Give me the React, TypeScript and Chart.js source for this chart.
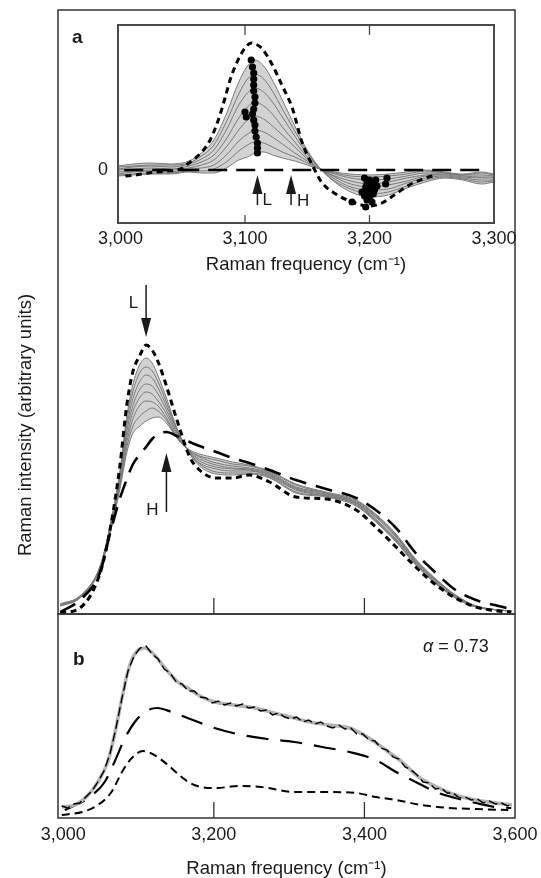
import React, { useEffect, useRef } from "react";
import { Chart, registerables } from "chart.js";

Chart.register(...registerables);

// ---------------- data: main panel (v = arbitrary intensity units) ----------------
const MAIN_FREQ = [2996, 3022, 3049, 3062, 3075, 3084, 3092, 3102, 3110, 3118, 3126, 3137, 3151, 3168, 3181, 3203, 3225, 3247, 3274, 3309, 3349, 3389, 3415, 3442, 3468, 3495, 3521, 3548, 3578, 3595];
const MAIN_LOW = [1, 6, 41, 84, 147, 207, 241, 259, 269, 264, 252, 228, 194, 157, 144, 136, 136, 139, 132, 117, 115, 104, 87, 67, 47, 29, 16, 7, 3, 2];
const MAIN_HIGH = [2, 14, 42, 80, 115, 134, 149, 160, 167, 175, 180, 182, 178, 172, 168, 162, 156, 151, 144, 134, 125, 116, 104, 86, 61, 41, 24, 14, 8, 5];
const MAIN_GRAY_1 = [10, 18, 48, 88, 142, 196, 228, 250, 256, 251, 238, 216, 186, 160, 148, 140, 139, 140, 136, 121, 117, 108, 92, 72, 49, 30, 16, 7, 4, 3];
const MAIN_GRAY_2 = [10, 18, 48, 87, 139, 191, 221, 242, 247, 243, 232, 212, 184, 161, 150, 142, 141, 141, 137, 122, 118, 109, 93, 73, 50, 31, 16, 7, 4, 3];
const MAIN_GRAY_3 = [9, 17, 47, 86, 137, 186, 214, 233, 239, 236, 226, 208, 183, 161, 151, 145, 143, 143, 138, 124, 118, 110, 94, 74, 51, 31, 17, 7, 4, 3];
const MAIN_GRAY_4 = [9, 17, 47, 85, 134, 181, 207, 225, 230, 228, 220, 204, 181, 162, 153, 147, 145, 144, 139, 125, 119, 111, 95, 75, 52, 32, 17, 7, 4, 3];
const MAIN_GRAY_5 = [9, 17, 46, 83, 132, 175, 201, 217, 222, 220, 213, 200, 179, 162, 155, 149, 146, 145, 140, 126, 120, 111, 97, 77, 52, 33, 18, 8, 4, 3];
const MAIN_GRAY_6 = [9, 17, 46, 82, 129, 170, 194, 209, 213, 212, 208, 196, 177, 163, 157, 151, 148, 146, 141, 127, 121, 112, 98, 78, 53, 34, 18, 8, 4, 3];
const MAIN_GRAY_7 = [8, 16, 45, 81, 127, 165, 187, 198, 203, 206, 203, 194, 176, 163, 158, 154, 150, 148, 142, 129, 121, 113, 99, 79, 54, 34, 19, 8, 4, 3];
const MAIN_GRAY_8 = [8, 16, 45, 80, 124, 160, 180, 188, 193, 196, 197, 191, 176, 164, 160, 156, 152, 149, 143, 130, 122, 114, 100, 80, 55, 35, 19, 8, 4, 3];
const MAIN_TICKS = [3200, 3400];
const MAIN_ARROWS = [3110, 3137]; // L, H

// ---------------- data: inset a (difference spectra) ----------------
const INSET_FREQ = [2998, 3010, 3025, 3040, 3055, 3065, 3075, 3085, 3095, 3102, 3108, 3115, 3122, 3130, 3140, 3150, 3160, 3172, 3185, 3200, 3215, 3230, 3245, 3260, 3275, 3290, 3300];
const INSET_GRAY_1 = [4, 6, 7, 6, 9, 17, 30, 56, 88, 104, 110, 104, 90, 70, 44, 20, 2, -12, -22, -27, -25, -18, -12, -8, -10, -14, -12];
const INSET_GRAY_2 = [3, 4, 5, 5, 7, 14, 25, 48, 76, 91, 96, 91, 79, 61, 39, 18, 2, -11, -19, -24, -22, -16, -10, -7, -9, -12, -11];
const INSET_GRAY_3 = [1, 3, 4, 3, 6, 11, 20, 40, 65, 77, 82, 78, 68, 53, 34, 16, 2, -9, -17, -20, -19, -13, -8, -6, -8, -10, -10];
const INSET_GRAY_4 = [0, 1, 2, 1, 4, 8, 15, 31, 52, 63, 68, 64, 56, 43, 28, 13, 2, -7, -14, -17, -15, -11, -6, -5, -7, -8, -8];
const INSET_GRAY_5 = [-2, -1, 0, 0, 2, 5, 10, 23, 40, 50, 54, 51, 44, 35, 23, 11, 1, -6, -11, -14, -12, -8, -5, -4, -6, -7, -7];
const INSET_GRAY_6 = [-4, -2, -1, -2, 1, 2, 5, 15, 29, 36, 40, 38, 33, 26, 17, 9, 1, -4, -8, -10, -9, -6, -3, -3, -5, -5, -6];
const INSET_GRAY_7 = [-5, -4, -3, -3, -1, -1, 1, 8, 19, 25, 28, 27, 23, 18, 13, 7, 1, -3, -6, -7, -6, -4, -1, -3, -5, -3, -5];
const INSET_GRAY_8 = [-6, -5, -4, -4, -2, -3, -3, 2, 10, 13, 17, 18, 15, 12, 9, 5, 1, -2, -4, -5, -4, -2, 0, -2, -4, -2, -4];
const INSET_LOW_FREQ = [3004, 3012, 3022, 3038, 3046, 3056, 3066, 3072, 3078, 3084, 3088, 3094, 3100, 3105, 3110, 3114, 3122, 3130, 3138, 3146, 3154, 3162, 3173, 3186, 3200, 3210, 3221, 3232, 3245, 3253];
const INSET_LOW = [-6, -5, -3, -1, 0, 8, 19, 30, 48, 72, 90, 109, 122, 127, 125, 121, 105, 84, 62, 27, 5, -13, -24, -32, -36, -33, -24, -15, -8, -5];
const INSET_ZERO_FREQ = [3003, 3291];
const INSET_ZERO = [0, 0];
const DOT_FREQ = [3105, 3106, 3107, 3107, 3107, 3107, 3108, 3108, 3107, 3106, 3107, 3108, 3108, 3109, 3110, 3110, 3110, 3100, 3101,
  3196, 3198, 3200, 3202, 3197, 3201, 3199, 3203, 3196, 3200, 3204, 3194, 3198, 3202, 3186, 3197, 3214, 3213, 3206, 3205];
const DOT_VAL = [110, 103, 97, 91, 85, 79, 73, 67, 61, 56, 50, 45, 39, 33, 27, 22, 17, 58, 53,
  -8, -12, -10, -14, -17, -19, -22, -24, -26, -28, -20, -22, -30, -32, -32, -37, -8, -14, -16, -10];
const INSET_TICK_LABELS = [3000, 3100, 3200, 3300];
const INSET_TICKS = [3100, 3200];

// ---------------- data: panel b ----------------
const B_FREQ = [2998, 3006, 3014, 3022, 3030, 3038, 3046, 3054, 3062, 3070, 3078, 3086, 3094, 3102, 3110, 3118, 3126, 3134, 3142, 3150, 3158, 3166, 3174, 3182, 3190, 3198, 3206, 3214, 3222, 3230, 3238, 3246, 3254, 3262, 3270, 3278, 3286, 3294, 3302, 3310, 3318, 3326, 3334, 3342, 3350, 3358, 3366, 3374, 3382, 3390, 3398, 3406, 3414, 3422, 3430, 3438, 3446, 3454, 3462, 3470, 3478, 3486, 3494, 3502, 3510, 3518, 3526, 3534, 3542, 3550, 3558, 3566, 3574, 3582, 3590, 3596];
const B_DATA = [12, 10, 14, 15, 21, 27, 36, 47, 64, 90, 120, 147, 162, 170, 172, 164, 159, 149, 145, 136, 134, 127, 127, 121, 120, 115, 117, 113, 115, 112, 114, 110, 111, 107, 108, 103, 105, 101, 99, 101, 96, 98, 94, 96, 92, 90, 93, 89, 90, 84, 84, 78, 77, 70, 68, 61, 59, 51, 48, 43, 36, 35, 29, 30, 25, 25, 20, 21, 18, 19, 15, 17, 14, 15, 12, 14];
const B_FIT_FREQ = [2998, 3015, 3033, 3046, 3059, 3068, 3078, 3086, 3095, 3108, 3121, 3135, 3152, 3165, 3184, 3201, 3227, 3254, 3280, 3307, 3327, 3353, 3380, 3406, 3432, 3450, 3472, 3499, 3521, 3548, 3574, 3596];
const B_FIT = [11, 13, 23, 36, 56, 83, 120, 147, 164, 170, 163, 150, 136, 130, 121, 116, 113, 110, 105, 100, 96, 93, 90, 80, 66, 56, 41, 30, 23, 18, 15, 13];
const B_HIGH_FREQ = [3002, 3033, 3055, 3068, 3082, 3095, 3108, 3125, 3144, 3165, 3201, 3237, 3271, 3307, 3344, 3380, 3415, 3442, 3468, 3495, 3521, 3548, 3574, 3595];
const B_HIGH = [8, 20, 36, 56, 80, 96, 106, 110, 106, 100, 90, 83, 79, 76, 71, 66, 58, 46, 36, 26, 20, 15, 11, 10];
const B_LOW_FREQ = [2998, 3025, 3046, 3064, 3078, 3091, 3106, 3121, 3139, 3157, 3174, 3201, 3237, 3263, 3307, 3344, 3389, 3415, 3442, 3476, 3512, 3548, 3591];
const B_LOW = [3, 6, 13, 26, 46, 60, 67, 63, 53, 41, 33, 30, 32, 31, 26, 26, 25, 21, 18, 13, 10, 9, 8];
const B_TICK_LABELS = [3000, 3200, 3400, 3600];
const B_TICKS = [3200, 3400];

// ---------------- styling helpers ----------------
const FONT = "'Liberation Sans', Arimo, Arial, Helvetica, sans-serif";
const TEXT = "#1a1a1a";
const GRAY = "#7a7a7a";

const pts = (xs: number[], ys: number[]) => xs.map((x, i) => ({ x, y: ys[i] }));
const fmt = (v: number) => {
  const s = String(Math.round(v));
  return s.length > 3 ? s.slice(0, -3) + "," + s.slice(-3) : s;
};

const line = (data: any[], color: string, width: number, dash: number[], order: number, extra: any = {}) => ({
  data,
  borderColor: color,
  borderWidth: width,
  borderDash: dash,
  borderCapStyle: "butt",
  pointRadius: 0,
  cubicInterpolationMode: "monotone",
  fill: false,
  order,
  ...extra,
});

function framePlugin(cfg: { color: string; width: number; ticks: number[]; topLen: number; bottomLen: number }) {
  return {
    id: "frame",
    afterDatasetsDraw(chart: any) {
      const { ctx, chartArea: a } = chart;
      const xs = chart.scales.x;
      ctx.save();
      ctx.strokeStyle = cfg.color;
      ctx.lineWidth = cfg.width;
      ctx.strokeRect(a.left, a.top, a.right - a.left, a.bottom - a.top);
      ctx.lineWidth = 1.3;
      ctx.beginPath();
      for (const v of cfg.ticks) {
        const x = xs.getPixelForValue(v);
        if (cfg.topLen > 0) {
          ctx.moveTo(x, a.top);
          ctx.lineTo(x, a.top + cfg.topLen);
        }
        if (cfg.bottomLen > 0) {
          ctx.moveTo(x, a.bottom);
          ctx.lineTo(x, a.bottom - cfg.bottomLen);
        }
      }
      ctx.stroke();
      ctx.restore();
    },
  };
}

function arrow(ctx: CanvasRenderingContext2D, x: number, yTail: number, yTip: number) {
  const dir = yTip > yTail ? 1 : -1;
  const head = 19;
  const half = 5;
  ctx.beginPath();
  ctx.moveTo(x, yTail);
  ctx.lineTo(x, yTip - dir * (head - 2));
  ctx.stroke();
  ctx.beginPath();
  ctx.moveTo(x, yTip);
  ctx.lineTo(x - half, yTip - dir * head);
  ctx.lineTo(x + half, yTip - dir * head);
  ctx.closePath();
  ctx.fill();
}

const baseOptions: any = {
  responsive: false,
  maintainAspectRatio: false,
  animation: false,
  devicePixelRatio: 1,
  events: [],
  plugins: { legend: { display: false }, tooltip: { enabled: false } },
};

const xAxisWithLabels = (min: number, max: number, labels: number[], pad: number, height: number, titleBottom: number) => ({
  type: "linear",
  min,
  max,
  position: "bottom",
  grid: { display: false, drawTicks: false },
  border: { display: false },
  afterBuildTicks: (s: any) => {
    s.ticks = labels.map((v) => ({ value: v }));
  },
  afterFit: (s: any) => {
    s.height = height;
  },
  ticks: {
    autoSkip: false,
    maxRotation: 0,
    minRotation: 0,
    padding: pad,
    color: TEXT,
    font: { family: FONT, size: 18 },
    callback: (v: any) => fmt(Number(v)),
  },
  title: {
    display: true,
    text: "Raman frequency (cm\u207B\u00B9)",
    color: TEXT,
    font: { family: FONT, size: 18.5 },
    padding: { top: 0, bottom: titleBottom },
  },
});

export default function App() {
  const mainRef = useRef<HTMLCanvasElement>(null);
  const insetRef = useRef<HTMLCanvasElement>(null);
  const bRef = useRef<HTMLCanvasElement>(null);

  useEffect(() => {
    const charts: Chart[] = [];

    // ---------- main panel ----------
    const mainGray = [MAIN_GRAY_1, MAIN_GRAY_2, MAIN_GRAY_3, MAIN_GRAY_4, MAIN_GRAY_5, MAIN_GRAY_6, MAIN_GRAY_7, MAIN_GRAY_8];
    const mainSets: any[] = [
      line(pts(MAIN_FREQ, MAIN_LOW), "#000", 3, [6, 4.5], 0),
      line(pts(MAIN_FREQ, MAIN_HIGH), "#000", 2.6, [17, 10], 1),
      ...mainGray.map((g, i) => line(pts(MAIN_FREQ, g), GRAY, 1, [], 2 + i)),
    ];
    mainSets[mainSets.length - 1].fill = 2;
    mainSets[mainSets.length - 1].backgroundColor = "#d2d2d2";

    const mainAnn = {
      id: "mainAnn",
      afterDatasetsDraw(chart: any) {
        const { ctx } = chart;
        const xs = chart.scales.x;
        const ys = chart.scales.y;
        ctx.save();
        ctx.fillStyle = TEXT;
        ctx.strokeStyle = TEXT;
        ctx.lineWidth = 1.5;
        const xl = xs.getPixelForValue(MAIN_ARROWS[0]);
        const xh = xs.getPixelForValue(MAIN_ARROWS[1]);
        arrow(ctx, xl, ys.getPixelForValue(329), ys.getPixelForValue(277));
        arrow(ctx, xh, ys.getPixelForValue(102), ys.getPixelForValue(161));
        ctx.font = `17px ${FONT}`;
        ctx.textAlign = "right";
        ctx.textBaseline = "alphabetic";
        ctx.fillText("L", xl - 8, ys.getPixelForValue(306));
        ctx.fillText("H", xh - 8, ys.getPixelForValue(99));
        ctx.textAlign = "left";
        ctx.font = `bold 19px ${FONT}`;
        ctx.fillText("a", 72, 43);
        ctx.translate(31, 425);
        ctx.rotate(-Math.PI / 2);
        ctx.font = `18.5px ${FONT}`;
        ctx.textAlign = "center";
        ctx.fillText("Raman intensity (arbitrary units)", 0, 0);
        ctx.restore();
      },
    };

    charts.push(
      new Chart(mainRef.current!, {
        type: "line",
        data: { datasets: mainSets },
        options: {
          ...baseOptions,
          layout: { padding: { left: 58, right: 26, top: 10, bottom: 6 } },
          scales: {
            x: { type: "linear", min: 2993, max: 3600, display: false },
            y: { min: 0, max: 604, display: false },
          },
        },
        plugins: [framePlugin({ color: "#333", width: 1.5, ticks: MAIN_TICKS, topLen: 0, bottomLen: 16 }), mainAnn],
      } as any)
    );

    // ---------- inset a ----------
    const insetGray = [INSET_GRAY_1, INSET_GRAY_2, INSET_GRAY_3, INSET_GRAY_4, INSET_GRAY_5, INSET_GRAY_6, INSET_GRAY_7, INSET_GRAY_8];
    const insetSets: any[] = [
      {
        data: pts(DOT_FREQ, DOT_VAL),
        showLine: false,
        pointRadius: 3.6,
        pointBackgroundColor: "#000",
        pointBorderWidth: 0,
        order: 0,
      },
      line(pts(INSET_LOW_FREQ, INSET_LOW), "#000", 3, [6, 4.5], 1),
      line(pts(INSET_ZERO_FREQ, INSET_ZERO), "#000", 2.6, [19, 9], 2),
      ...insetGray.map((g, i) => line(pts(INSET_FREQ, g), GRAY, 1, [], 3 + i)),
    ];
    insetSets[insetSets.length - 1].fill = 3;
    insetSets[insetSets.length - 1].backgroundColor = "#d2d2d2";

    const insetAnn = {
      id: "insetAnn",
      afterDatasetsDraw(chart: any) {
        const { ctx, chartArea } = chart;
        const xs = chart.scales.x;
        const ys = chart.scales.y;
        ctx.save();
        ctx.fillStyle = TEXT;
        ctx.strokeStyle = TEXT;
        ctx.lineWidth = 1.5;
        const xl = xs.getPixelForValue(MAIN_ARROWS[0]);
        const xh = xs.getPixelForValue(MAIN_ARROWS[1]);
        arrow(ctx, xl, ys.getPixelForValue(-35), ys.getPixelForValue(-5));
        arrow(ctx, xh, ys.getPixelForValue(-35), ys.getPixelForValue(-5));
        ctx.font = `17px ${FONT}`;
        ctx.textAlign = "left";
        ctx.textBaseline = "alphabetic";
        ctx.fillText("L", xl + 5, ys.getPixelForValue(-35));
        ctx.fillText("H", xh + 6, ys.getPixelForValue(-36));
        ctx.font = `18px ${FONT}`;
        ctx.textAlign = "right";
        ctx.textBaseline = "middle";
        ctx.fillText("0", chartArea.left - 10, ys.getPixelForValue(0));
        ctx.restore();
      },
    };

    charts.push(
      new Chart(insetRef.current!, {
        type: "line",
        data: { datasets: insetSets },
        options: {
          ...baseOptions,
          layout: { padding: { left: 38, right: 34, top: 10, bottom: 0 } },
          scales: {
            x: xAxisWithLabels(2998, 3300, INSET_TICK_LABELS, 5, 53, 0),
            y: { min: -53, max: 145, display: false },
          },
        },
        plugins: [framePlugin({ color: "#4a4a4a", width: 2, ticks: INSET_TICKS, topLen: 10, bottomLen: 8 }), insetAnn],
      } as any)
    );

    // ---------- panel b ----------
    const bSets: any[] = [
      line(pts(B_FREQ, B_DATA), "#000", 1.4, [9, 4], 0, { cubicInterpolationMode: "default", tension: 0 }),
      line(pts(B_FIT_FREQ, B_FIT), "#b3b3b3", 3.5, [], 1),
      line(pts(B_HIGH_FREQ, B_HIGH), "#000", 2.2, [22, 12], 2),
      line(pts(B_LOW_FREQ, B_LOW), "#000", 2, [8, 5], 3),
    ];
    const bAnn = {
      id: "bAnn",
      afterDatasetsDraw(chart: any) {
        const { ctx } = chart;
        ctx.save();
        ctx.fillStyle = TEXT;
        ctx.textAlign = "left";
        ctx.textBaseline = "alphabetic";
        ctx.font = `bold 19px ${FONT}`;
        ctx.fillText("b", 73, 61);
        ctx.font = `italic 18px ${FONT}`;
        ctx.fillText("\u03B1", 423, 48);
        const w = ctx.measureText("\u03B1").width;
        ctx.font = `18px ${FONT}`;
        ctx.fillText(" = 0.73", 423 + w, 48);
        ctx.restore();
      },
    };
    charts.push(
      new Chart(bRef.current!, {
        type: "line",
        data: { datasets: bSets },
        options: {
          ...baseOptions,
          layout: { padding: { left: 58, right: 55, top: 10, bottom: 0 } },
          scales: {
            x: xAxisWithLabels(2993, 3600, B_TICK_LABELS, 6, 60, -2),
            y: { min: 0, max: 204, display: false },
          },
        },
        plugins: [framePlugin({ color: "#333", width: 1.5, ticks: B_TICKS, topLen: 0, bottomLen: 16 }), bAnn],
      } as any)
    );

    return () => charts.forEach((c) => c.destroy());
  }, []);

  const abs = (left: number, top: number, w: number, h: number): React.CSSProperties => ({
    position: "absolute",
    left,
    top,
    width: w,
    height: h,
  });

  return (
    <div style={{ position: "absolute", left: 0, top: 0, width: 541, height: 878, overflow: "hidden", background: "#fff" }}>
      <canvas ref={mainRef} width={541} height={620} style={abs(0, 0, 541, 620)} />
      <canvas ref={bRef} width={570} height={274} style={abs(0, 604, 570, 274)} />
      <canvas ref={insetRef} width={448} height={261} style={abs(80, 15, 448, 261)} />
    </div>
  );
}
